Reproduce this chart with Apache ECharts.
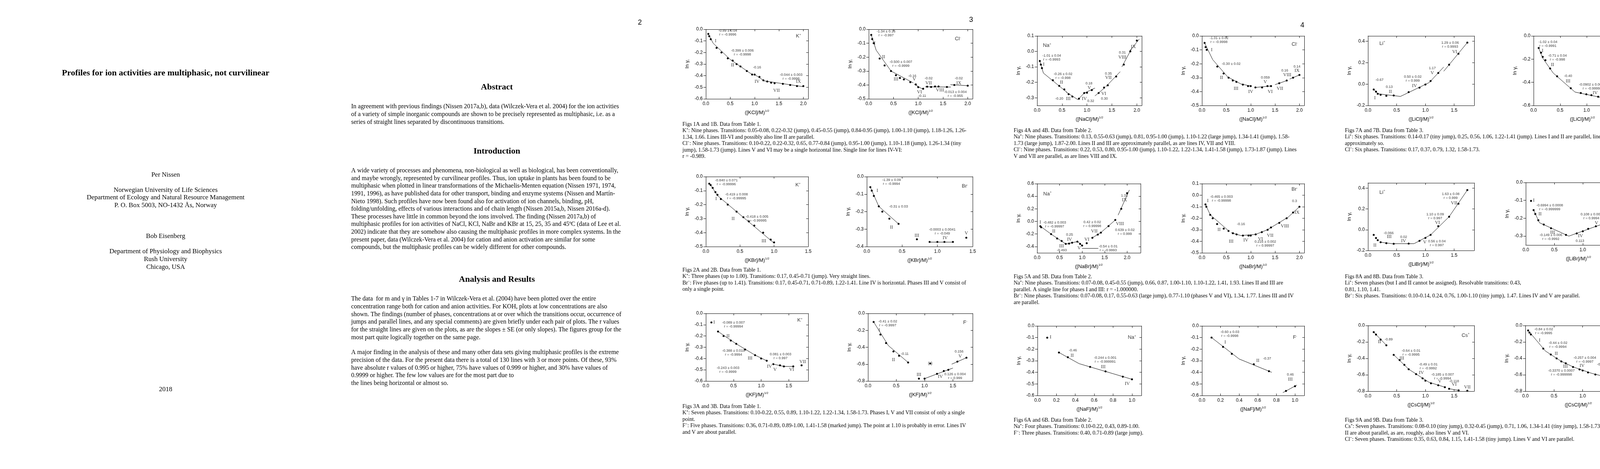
<!DOCTYPE html>
<html><head><meta charset="utf-8">
<script src="https://cdn.jsdelivr.net/npm/echarts@6/dist/echarts.min.js"></script>
<style>html,body{margin:0;padding:0;background:#fff}#c{width:4240px;height:1200px}</style>
</head><body><div id="c"></div>
<script>
// ================= DATA =================
// Fig 1A  K+ (KCl)
const f1aPts=[[0.05,-0.04],[0.07,-0.06],[0.10,-0.085],[0.22,-0.16],[0.32,-0.20],[0.45,-0.25],[0.55,-0.27],[0.63,-0.30],[0.71,-0.32],[0.84,-0.36],[0.95,-0.39],[1.00,-0.39],[1.10,-0.41],[1.18,-0.44],[1.26,-0.45],[1.34,-0.46],[1.41,-0.465],[1.58,-0.47],[1.73,-0.48],[1.87,-0.49],[2.00,-0.49]];
const f1aFits=[[0.05,-0.04,0.15,-0.12],[0.15,-0.12,0.5,-0.26],[0.5,-0.26,0.95,-0.39],[1.0,-0.39,1.2,-0.445],[1.2,-0.445,1.6,-0.47],[1.6,-0.47,2.0,-0.495]];
const f1aSlopes=[[0.45,-0.03,'-0.89 ± 0.04\nr = -0.9996'],[0.75,-0.2,'-0.399 ± 0.006\nr = -0.9998'],[1.05,-0.33,'-0.16'],[1.75,-0.41,'-0.044 ± 0.003\nr = -0.9996']];
const f1aPhases=[[0.2,-0.1,'I'],[0.55,-0.31,'II'],[1.05,-0.45,'IV'],[1.45,-0.53,'VII'],[1.9,-0.45,'IX']];
const f1aIon=[1.9,-0.06,'K','+'];
// Fig 1B  Cl- (KCl)
const f1bPts=[[0.05,-0.04],[0.07,-0.07],[0.10,-0.10],[0.22,-0.21],[0.32,-0.26],[0.45,-0.30],[0.55,-0.33],[0.63,-0.35],[0.71,-0.36],[0.84,-0.38],[0.95,-0.396],[1.00,-0.416],[1.10,-0.427],[1.18,-0.412],[1.26,-0.414],[1.34,-0.411],[1.41,-0.411],[1.58,-0.414],[1.73,-0.40],[2.00,-0.405]];
const f1bFits=[[0.05,-0.04,0.15,-0.15],[0.15,-0.15,0.45,-0.3],[0.45,-0.3,0.9,-0.385],[0.92,-0.395,1.1,-0.432],[1.14,-0.413,1.66,-0.415],[1.65,-0.398,2.0,-0.405]];
const f1bSlopes=[[0.35,-0.03,'-1.34 ± 0.16\nr = -0.997'],[0.65,-0.25,'-0.500 ± 0.007\nr = -0.9999'],[0.88,-0.337,'-0.16'],[1.21,-0.353,'-0.02'],[1.82,-0.353,'-0.02'],[1.08,-0.48,'-0.11'],[1.75,-0.464,'-0.013 ± 0.004\nr = -0.955']];
const f1bPhases=[[0.12,-0.1,'I'],[0.3,-0.2,'II'],[0.55,-0.36,'III'],[0.92,-0.36,'V'],[1.025,-0.451,'VI'],[1.21,-0.386,'VII'],[1.44,-0.438,'VIII'],[1.82,-0.386,'IX']];
const f1bIon=[1.8,-0.07,'Cl','-'];
// Fig 2A  K+ (KBr)
const f2aPts=[[0.05,-0.05],[0.07,-0.06],[0.10,-0.08],[0.14,-0.11],[0.17,-0.13],[0.22,-0.16],[0.32,-0.20],[0.45,-0.25],[0.55,-0.29],[0.63,-0.32],[0.71,-0.35],[0.84,-0.40],[0.95,-0.45],[1.00,-0.47]];
const f2aFits=[[0.05,-0.045,0.17,-0.135],[0.17,-0.135,0.45,-0.25],[0.45,-0.25,1.0,-0.475]];
const f2aSlopes=[[0.3,-0.04,'-0.840 ± 0.071\nr = -0.99996'],[0.45,-0.14,'-0.419 ± 0.008\nr = -0.99995'],[0.75,-0.3,'-0.418 ± 0.005\nr = -0.99995']];
const f2aPhases=[[0.15,-0.16,'I'],[0.4,-0.3,'II'],[0.85,-0.46,'III']];
const f2aIon=[1.35,-0.06,'K','+'];
// Fig 2B  Br- (KBr)
const f2bPts=[[0.05,-0.06],[0.07,-0.08],[0.10,-0.11],[0.17,-0.17],[0.22,-0.2],[0.32,-0.24],[0.45,-0.27],[0.71,-0.358],[0.89,-0.373],[1.00,-0.373],[1.10,-0.373],[1.22,-0.373],[1.41,-0.349]];
const f2bFits=[[0.05,-0.06,0.17,-0.17],[0.17,-0.17,0.45,-0.27],[0.89,-0.373,1.22,-0.373]];
const f2bSlopes=[[0.35,-0.03,'-1.39 ± 0.09\nr = -0.9994'],[0.45,-0.17,'-0.31 ± 0.03'],[1.07,-0.315,'-0.0003 ± 0.0041\nr = -0.049']];
const f2bPhases=[[0.15,-0.08,'I'],[0.35,-0.29,'II'],[0.71,-0.337,'III'],[1.11,-0.35,'IV'],[1.41,-0.323,'V']];
const f2bIon=[1.39,-0.055,'Br','-'];
// Fig 3A  K+ (KF)
const f3aPts=[[0.10,-0.08],[0.22,-0.16],[0.32,-0.2],[0.45,-0.24],[0.55,-0.27],[0.71,-0.32],[0.89,-0.37],[1.00,-0.40],[1.10,-0.42],[1.22,-0.45],[1.34,-0.46],[1.41,-0.47],[1.58,-0.47],[1.73,-0.46]];
const f3aFits=[[0.22,-0.16,0.55,-0.27],[0.55,-0.27,0.89,-0.37],[0.89,-0.37,1.1,-0.42],[1.22,-0.45,1.41,-0.47],[1.41,-0.47,1.58,-0.47]];
const f3aSlopes=[[0.5,-0.1,'-0.089 ± 0.007\nr = -0.99994'],[0.5,-0.35,'-0.388 ± 0.015\nr = -0.9994'],[0.4,-0.5,'-0.243 ± 0.003\nr = -0.9999'],[1.35,-0.38,'0.081 ± 0.003\nr = 0.997']];
const f3aPhases=[[0.15,-0.08,'I'],[0.4,-0.2,'II'],[0.8,-0.4,'III'],[1.15,-0.47,'IV'],[1.25,-0.5,'V'],[1.55,-0.5,'VI'],[1.75,-0.43,'VII']];
const f3aIon=[1.7,-0.06,'K','+'];
// Fig 3B  F- (KF)
const f3bPts=[[0.10,-0.10],[0.22,-0.25],[0.32,-0.35],[0.45,-0.45],[0.55,-0.5],[0.71,-0.58],[0.90,-0.771],[1.00,-0.771],[1.22,-0.714],[1.34,-0.681],[1.42,-0.667],[1.58,-0.57],[1.74,-0.524],[1.10,-0.592]];
const f3bFits=[[0.10,-0.10,0.36,-0.38],[0.36,-0.38,0.71,-0.58],[1.0,-0.771,1.5,-0.646],[1.48,-0.60,1.74,-0.524]];
const f3bSlopes=[[0.35,-0.12,'-0.41 ± 0.02\nr = -0.9997'],[0.65,-0.48,'-0.11'],[1.54,-0.741,'0.126 ± 0.004\nr = 0.999'],[1.61,-0.453,'0.156']];
const f3bPhases=[[0.2,-0.2,'I'],[0.45,-0.55,'II'],[0.9,-0.723,'III'],[1.28,-0.749,'IV'],[1.63,-0.507,'V']];
const f3bMarks=[[1.10,-0.592,'(•)']];
const f3bIon=[1.72,-0.11,'F','-'];
// Fig 4A  Na+ (NaCl)
const f4aPts=[[0.054,-0.062],[0.075,-0.085],[0.097,-0.108],[0.315,-0.186],[0.444,-0.223],[0.546,-0.246],[0.632,-0.277],[0.707,-0.292],[0.839,-0.306],[0.946,-0.269],[1.0,-0.267],[1.097,-0.25],[1.234,-0.269],[1.344,-0.234],[1.417,-0.219],[1.586,-0.162],[1.739,-0.085],[1.87,0.0],[2.0,0.07]];
const f4aFits=[[0.054,-0.062,0.126,-0.14],[0.126,-0.14,0.6,-0.265],[0.58,-0.262,0.817,-0.312],[0.817,-0.312,0.95,-0.268],[0.925,-0.273,1.16,-0.237],[1.16,-0.288,1.35,-0.237],[1.376,-0.229,1.667,-0.131],[1.7,-0.1,1.9,0.02],[1.85,0.0,2.05,0.08]];
const f4aSlopes=[[0.293,-0.04,'-1.01 ± 0.04\nr = -0.9993'],[0.52,-0.158,'-0.26 ± 0.02\nr = -0.998'],[0.444,-0.307,'-0.20'],[1.04,-0.208,'0.18'],[1.075,-0.322,'0.32'],[1.43,-0.144,'0.35'],[1.35,-0.305,'0.30'],[1.71,-0.008,'0.31']];
const f4aPhases=[[0.134,-0.085,'I'],[0.49,-0.2,'II'],[0.624,-0.307,'III'],[0.946,-0.307,'IV'],[1.046,-0.237,'V'],[1.336,-0.273,'VI'],[1.43,-0.171,'VII'],[1.71,-0.038,'VIII'],[1.93,0.03,'IX']];
const f4aIon=[0.2,0.038,'Na','+'];
// Fig 4B  Cl- (NaCl)
const f4bPts=[[0.054,-0.05],[0.075,-0.08],[0.097,-0.1],[0.315,-0.22],[0.444,-0.27],[0.546,-0.3],[0.632,-0.32],[0.707,-0.33],[0.839,-0.35],[0.946,-0.36],[1.0,-0.36],[1.097,-0.37],[1.234,-0.37],[1.344,-0.36],[1.417,-0.36],[1.586,-0.34],[1.739,-0.32],[1.87,-0.3],[2.0,-0.28]];
const f4bFits=[[0.054,-0.05,0.22,-0.17],[0.22,-0.17,0.53,-0.295],[0.53,-0.295,0.8,-0.345],[0.8,-0.345,1.0,-0.36],[1.1,-0.37,1.4,-0.36],[1.5,-0.35,1.75,-0.32],[1.8,-0.31,2.0,-0.28]];
const f4bSlopes=[[0.35,-0.03,'-1.01 ± 0.02\nr = -0.9998'],[0.6,-0.2,'-0.30 ± 0.02'],[1.3,-0.3,'0.059'],[1.7,-0.25,'0.16'],[1.95,-0.22,'0.14']];
const f4bPhases=[[0.2,-0.1,'I'],[0.4,-0.3,'II'],[0.7,-0.38,'III'],[1.0,-0.4,'IV'],[1.3,-0.33,'V'],[1.4,-0.4,'VI'],[1.6,-0.38,'VII'],[1.75,-0.28,'VIII'],[1.95,-0.25,'IX']];
const f4bIon=[1.9,-0.06,'Cl','-'];
// Fig 5A  Na+ (NaBr)
const f5aPts=[[0.072,-0.076],[0.09,-0.093],[0.311,-0.202],[0.446,-0.272],[0.545,-0.311],[0.635,-0.357],[0.71,-0.353],[0.778,-0.338],[0.895,-0.322],[0.955,-0.357],[1.0,-0.383],[1.102,-0.346],[1.228,-0.26],[1.347,-0.21],[1.416,-0.179],[1.587,-0.074],[1.737,0.023],[1.87,0.2],[2.0,0.45]];
const f5aFits=[[0.072,-0.076,0.311,-0.202],[0.311,-0.202,0.64,-0.36],[0.64,-0.36,0.9,-0.32],[0.9,-0.32,1.0,-0.385],[1.0,-0.429,1.36,-0.429],[1.228,-0.26,1.42,-0.175],[1.42,-0.175,1.75,0.03],[1.8,0.1,2.05,0.5]];
const f5aSlopes=[[0.39,-0.047,'-0.482 ± 0.003\nr = -0.99997'],[0.72,-0.21,'0.25'],[0.55,-0.46,'-0.493'],[1.225,-0.045,'0.42 ± 0.02\nr = 0.99998'],[1.58,-0.431,'-0.54 ± 0.01\nr = -0.9993'],[1.95,-0.165,'0.639 ± 0.02\nr = 0.999'],[1.94,0.412,'1.31']];
const f5aPhases=[[0.072,-0.016,'I'],[0.371,-0.155,'II'],[0.542,-0.392,'III'],[0.72,-0.289,'IV'],[0.934,-0.423,'V'],[1.105,-0.289,'VI'],[1.27,-0.155,'VII'],[1.84,-0.041,'VIII'],[1.94,0.34,'IX']];
const f5aIon=[0.23,0.437,'Na','+'];
// Fig 5B  Br- (NaBr)
const f5bPts=[[0.072,-0.08],[0.09,-0.1],[0.17,-0.17],[0.22,-0.2],[0.311,-0.25],[0.446,-0.29],[0.545,-0.31],[0.635,-0.33],[0.71,-0.34],[0.84,-0.35],[0.955,-0.35],[1.0,-0.35],[1.102,-0.34],[1.228,-0.32],[1.347,-0.3],[1.416,-0.28],[1.587,-0.24],[1.737,-0.2],[1.87,-0.15],[2.0,-0.1]];
const f5bFits=[[0.072,-0.08,0.17,-0.17],[0.17,-0.17,0.55,-0.31],[0.6,-0.325,0.8,-0.35],[0.8,-0.35,1.1,-0.34],[1.1,-0.34,1.34,-0.3],[1.34,-0.3,1.77,-0.19],[1.77,-0.19,2.0,-0.1]];
const f5bSlopes=[[0.4,-0.03,'-0.465 ± 0.003\nr = -0.99998'],[0.8,-0.25,'-0.16'],[1.3,-0.42,'0.216 ± 0.002\nr = 0.99997'],[1.9,-0.05,'0.3']];
const f5bPhases=[[0.12,-0.05,'I'],[0.35,-0.3,'II'],[0.6,-0.4,'III'],[0.9,-0.39,'IV'],[1.2,-0.38,'VI'],[1.4,-0.35,'VII'],[1.7,-0.27,'VIII'],[1.95,-0.15,'IX']];
const f5bIon=[1.9,0.05,'Br','-'];
// Fig 6A  Na+ (NaF)
const f6aPts=[[0.103,-0.101],[0.227,-0.229],[0.321,-0.27],[0.557,-0.353],[0.72,-0.392],[0.903,-0.437],[1.0,-0.46]];
const f6aFits=[[0.227,-0.229,0.44,-0.325],[0.44,-0.325,1.0,-0.46]];
const f6aSlopes=[[0.374,-0.212,'-0.46'],[0.717,-0.29,'-0.244 ± 0.001\nr = -0.999991']];
const f6aPhases=[[0.139,-0.097,'I'],[0.367,-0.257,'II'],[0.696,-0.352,'III'],[0.95,-0.5,'IV']];
const f6aIon=[1.0,-0.1,'Na','+'];
// Fig 6B  F- (NaF)
const f6bPts=[[0.103,-0.10],[0.227,-0.18],[0.321,-0.24],[0.557,-0.33],[0.72,-0.39],[0.903,-0.56],[1.0,-0.52]];
const f6bFits=[[0.103,-0.10,0.40,-0.285],[0.40,-0.285,0.75,-0.40],[0.87,-0.575,1.02,-0.51]];
const f6bSlopes=[[0.3,-0.07,'-0.60 ± 0.03\nr = -0.9998'],[0.7,-0.28,'-0.37'],[0.95,-0.42,'0.46']];
const f6bPhases=[[0.25,-0.14,'I'],[0.6,-0.3,'II'],[0.95,-0.46,'III']];
const f6bIon=[1.0,-0.1,'F','-'];
// Fig 7A  Li+ (LiCl)
const f7aPts=[[0.1,-0.05],[0.14,-0.07],[0.17,-0.09],[0.22,-0.1],[0.32,-0.11],[0.448,-0.106],[0.708,-0.075],[0.897,-0.033],[1.0,-0.004],[1.09,0.029],[1.224,0.104],[1.413,0.182],[1.575,0.284],[1.73,0.388]];
const f7aFits=[[0.1,-0.05,0.17,-0.09],[0.17,-0.09,0.566,-0.115],[0.566,-0.115,1.068,0.015],[1.068,0.015,1.319,0.16],[1.319,0.12,1.73,0.388]];
const f7aSlopes=[[0.2,0.04,'-0.67'],[0.37,-0.027,'0.13'],[0.78,0.05,'0.50 ± 0.02\nr = 0.999'],[1.12,0.147,'1.17'],[1.43,0.368,'1.29 ± 0.06\nr = 0.9993']];
const f7aPhases=[[0.12,-0.13,'I'],[0.39,-0.072,'II'],[0.81,-0.017,'IV'],[1.12,0.104,'V'],[1.51,0.302,'VI']];
const f7aIon=[0.25,0.38,'Li','+'];
// Fig 7B  Cl- (LiCl)
const f7bPts=[[0.096,-0.104],[0.14,-0.144],[0.172,-0.18],[0.223,-0.209],[0.312,-0.281],[0.443,-0.348],[0.70,-0.451],[0.889,-0.492],[0.994,-0.503],[1.089,-0.511],[1.217,-0.524],[1.408,-0.525],[1.573,-0.511],[1.723,-0.487]];
const f7bFits=[[0.096,-0.104,0.17,-0.19],[0.17,-0.19,0.37,-0.32],[0.37,-0.32,0.78,-0.484],[0.78,-0.484,1.30,-0.533],[1.30,-0.533,1.573,-0.511]];
const f7bSlopes=[[0.27,-0.07,'-1.02 ± 0.04\nr = -0.9991'],[0.45,-0.187,'-0.71 ± 0.04\nr = -0.998'],[0.65,-0.346,'-0.40'],[1.105,-0.436,'-0.0902 ± 0.0007\nr = -0.99994'],[1.487,-0.449,'0.08']];
const f7bPhases=[[0.17,-0.127,'I'],[0.357,-0.25,'II'],[0.65,-0.389,'III'],[1.16,-0.49,'IV'],[1.487,-0.49,'V'],[1.72,-0.449,'VI']];
const f7bIon=[1.70,-0.074,'Cl','-'];
// Fig 8A  Li+ (LiBr)
const f8aPts=[[0.1,-0.05],[0.14,-0.08],[0.17,-0.1],[0.22,-0.12],[0.32,-0.13],[0.448,-0.135],[0.708,-0.133],[0.897,-0.107],[1.0,-0.079],[1.09,-0.05],[1.224,0.034],[1.413,0.125],[1.575,0.25],[1.73,0.381]];
const f8aFits=[[0.22,-0.12,0.43,-0.135],[0.43,-0.135,0.80,-0.135],[0.80,-0.135,1.09,-0.05],[1.09,-0.05,1.413,0.125],[1.413,0.125,1.73,0.381]];
const f8aSlopes=[[0.36,-0.032,'-0.066'],[0.62,-0.069,'0.02'],[1.2,-0.129,'0.56 ± 0.04\nr = 0.997'],[1.17,0.129,'1.10 ± 0.09\nr = 0.997'],[1.44,0.323,'1.63 ± 0.08\nr = 0.999']];
const f8aPhases=[[0.12,-0.15,'II'],[0.37,-0.069,'III'],[0.62,-0.109,'IV'],[0.99,-0.119,'V'],[1.21,0.066,'VI'],[1.50,0.256,'VII']];
const f8aIon=[0.25,0.36,'Li','+'];
// Fig 8B  Br- (LiBr)
const f8bPts=[[0.092,-0.103],[0.137,-0.154],[0.167,-0.176],[0.22,-0.211],[0.315,-0.235],[0.443,-0.256],[0.705,-0.293],[0.893,-0.285],[1.0,-0.273],[1.095,-0.259],[1.229,-0.245],[1.414,-0.225],[1.58,-0.191],[1.735,-0.152]];
const f8bFits=[[0.137,-0.154,0.24,-0.225],[0.24,-0.225,0.755,-0.3],[0.755,-0.3,1.47,-0.218],[1.47,-0.218,1.735,-0.152]];
const f8bSlopes=[[0.42,-0.14,'-0.6994 ± 0.0008\nr = -0.999999'],[0.44,-0.305,'-0.149 ± 0.006\nr = -0.9992'],[0.95,-0.328,'0.113'],[1.15,-0.19,'0.108 ± 0.004\nr = 0.9994'],[1.58,-0.145,'0.25']];
const f8bPhases=[[0.14,-0.1,'I'],[0.25,-0.177,'II'],[0.47,-0.28,'III'],[0.96,-0.3,'IV'],[1.24,-0.228,'V'],[1.59,-0.165,'VI']];
const f8bIon=[1.75,-0.05,'Br','-'];
// Fig 9A  Cs+ (CsCl)
const f9aPts=[[0.1,-0.08],[0.14,-0.11],[0.22,-0.17],[0.32,-0.24],[0.448,-0.357],[0.551,-0.42],[0.634,-0.479],[0.708,-0.532],[0.838,-0.592],[0.95,-0.643],[1.0,-0.671],[1.097,-0.703],[1.224,-0.727],[1.339,-0.751],[1.413,-0.77],[1.578,-0.789],[1.73,-0.794]];
const f9aFits=[[0.1,-0.08,0.32,-0.24],[0.45,-0.357,0.71,-0.532],[0.71,-0.532,1.06,-0.69],[1.06,-0.69,1.34,-0.751],[1.413,-0.77,1.578,-0.789]];
const f9aSlopes=[[0.36,-0.168,'-0.89'],[0.75,-0.33,'-0.64 ± 0.01\nr = -0.9995'],[1.05,-0.5,'-0.49 ± 0.01\nr = -0.9992'],[1.3,-0.62,'-0.185 ± 0.007\nr = -0.9994'],[1.5,-0.68,'-0.118']];
const f9aPhases=[[0.2,-0.2,'II'],[0.59,-0.4,'III'],[0.93,-0.575,'IV'],[1.25,-0.68,'V'],[1.5,-0.72,'VI'],[1.73,-0.75,'VII']];
const f9aIon=[1.7,-0.12,'Cs','+'];
// Fig 9B  Cl- (CsCl)
const f9bPts=[[0.048,-0.06],[0.071,-0.086],[0.095,-0.108],[0.313,-0.281],[0.443,-0.352],[0.545,-0.4],[0.628,-0.437],[0.705,-0.46],[0.833,-0.505],[0.946,-0.535],[1.0,-0.548],[1.095,-0.571],[1.223,-0.597],[1.339,-0.616],[1.414,-0.627],[1.58,-0.651],[1.735,-0.676]];
const f9bFits=[[0.048,-0.06,0.35,-0.31],[0.35,-0.31,0.63,-0.437],[0.63,-0.437,0.84,-0.505],[0.84,-0.505,1.15,-0.58],[1.15,-0.58,1.41,-0.627],[1.41,-0.627,1.735,-0.676]];
const f9bSlopes=[[0.32,-0.07,'-0.84 ± 0.02\nr = -0.9995'],[0.57,-0.235,'-0.44 ± 0.02\nr = -0.9994'],[0.63,-0.575,'-0.3370 ± 0.0007\nr = -0.999998'],[1.04,-0.415,'-0.257 ± 0.004\nr = -0.9997'],[1.45,-0.5,'-0.166 ± 0.005\nr = -0.9996'],[1.64,-0.77,'-0.180']];
const f9bPhases=[[0.25,-0.18,'I'],[0.54,-0.34,'II'],[0.7,-0.5,'III'],[0.99,-0.49,'IV'],[1.35,-0.57,'V'],[1.66,-0.715,'VI']];
const f9bIon=[1.67,-0.12,'Cl','-'];

// axis ticks
const ticksX21=[0,0.5,1.0,1.5,2.0];
const ticksX15=[0,0.5,1.0,1.5];
const ticksX23=[0,0.5,1.0,1.5,2.0];
const ticksX11=[0,0.2,0.4,0.6,0.8,1.0];
const ticksY06=[0,-0.1,-0.2,-0.3,-0.4,-0.5,-0.6];
const ticksY05=[0,-0.1,-0.2,-0.3,-0.4,-0.5];
const ticksY04=[0,-0.1,-0.2,-0.3,-0.4];
const ticksY08=[0,-0.2,-0.4,-0.6,-0.8];
const ticks4A=[0.1,0.0,-0.1,-0.2,-0.3];
const ticks5A=[0.6,0.4,0.2,0.0,-0.2,-0.4];
const ticks5B=[0.1,0.0,-0.1,-0.2,-0.3,-0.4,-0.5];
const ticks7A=[0.4,0.2,0.0,-0.2];
const ticks7B=[0.0,-0.2,-0.4,-0.6];
const ticks8B=[0.0,-0.1,-0.2,-0.3];

// ================= TEXT =================
const titleText='Profiles for ion activities are multiphasic, not curvilinear';
const authorLines=[['Per Nissen',448],['Norwegian University of Life Sciences',487],['Department of Ecology and Natural Resource Management',506],['P. O. Box 5003, NO-1432 Ås, Norway',526],['Bob Eisenberg',605],['Department of Physiology and Biophysics',644],['Rush University',664],['Chicago, USA',684],['2018',997]];
const abstractText=['In agreement with previous findings (Nissen 2017a,b), data (Wilczek-Vera et al. 2004) for the ion activities','of a variety of simple inorganic compounds are shown to be precisely represented as multiphasic, i.e. as a','series of straight lines separated by discontinuous transitions.'];
const introText=['A wide variety of processes and phenomena, non-biological as well as biological, has been conventionally,','and maybe wrongly, represented by curvilinear profiles. Thus, ion uptake in plants has been found to be','multiphasic when plotted in linear transformations of the Michaelis-Menten equation (Nissen 1971, 1974,','1991, 1996), as have published data for other transport, binding and enzyme systems (Nissen and Martín-','Nieto 1998). Such profiles have now been found also for activation of ion channels, binding, pH,','folding/unfolding, effects of various interactions and of chain length (Nissen 2015a,b, Nissen 2016a-d).','These processes have little in common beyond the ions involved. The finding (Nissen 2017a,b) of','multiphasic profiles for ion activities of NaCl, KCl, NaBr and KBr at 15, 25, 35 and 45ºC (data of Lee et al.','2002) indicate that they are somehow also causing the multiphasic profiles in more complex systems. In the','present paper, data (Wilczek-Vera et al. 2004) for cation and anion activation are similar for some','compounds, but the multiphasic profiles can be widely different for other compounds.'];
const analysisText1=['The data  for m and γ in Tables 1-7 in Wilczek-Vera et al. (2004) have been plotted over the entire','concentration range both for cation and anion activities. For KOH, plots at low concentrations are also','shown. The findings (number of phases, concentrations at or over which the transitions occur, occurrence of','jumps and parallel lines, and any special comments) are given briefly under each pair of plots. The r values','for the straight lines are given on the plots, as are the slopes ± SE (or only slopes). The figures group for the','most part quite logically together on the same page.'];
const analysisText2=['A major finding in the analysis of these and many other data sets giving multiphasic profiles is the extreme','precision of the data. For the present data there is a total of 130 lines with 3 or more points. Of these, 93%','have absolute r values of 0.995 or higher, 75% have values of 0.999 or higher, and 30% have values of','0.9999 or higher. The few low values are for the most part due to','the lines being horizontal or almost so.'];
const cap1=['Figs 1A and 1B. Data from Table 1.','K⁺: Nine phases. Transitions: 0.05-0.08, 0.22-0.32 (jump), 0.45-0.55 (jump), 0.84-0.95 (jump), 1.00-1.10 (jump), 1.18-1.26, 1.26-','1.34, 1.66. Lines III-VI and possibly also line II are parallel.','Cl⁻: Nine phases. Transitions: 0.10-0.22, 0.22-0.32, 0.65, 0.77-0.84 (jump), 0.95-1.00 (jump), 1.10-1.18 (jump), 1.26-1.34 (tiny','jump), 1.58-1.73 (jump). Lines V and VI may be a single horizontal line. Single line for lines IV-VI:','r = -0.989.'];
const cap2=['Figs 2A and 2B. Data from Table 1.','K⁺: Three phases (up to 1.00). Transitions: 0.17, 0.45-0.71 (jump). Very straight lines.','Br⁻: Five phases (up to 1.41). Transitions: 0.17, 0.45-0.71, 0.71-0.89, 1.22-1.41. Line IV is horizontal. Phases III and V consist of','only a single point.'];
const cap3=['Figs 3A and 3B. Data from Table 1.','K⁺: Seven phases. Transitions: 0.10-0.22, 0.55, 0.89, 1.10-1.22, 1.22-1.34, 1.58-1.73. Phases I, V and VII consist of only a single','point.','F⁻: Five phases. Transitions: 0.36, 0.71-0.89, 0.89-1.00, 1.41-1.58 (marked jump). The point at 1.10 is probably in error. Lines IV','and V are about parallel.'];
const cap4=['Figs 4A and 4B. Data from Table 2.','Na⁺: Nine phases. Transitions: 0.13, 0.55-0.63 (jump), 0.81, 0.95-1.00 (jump), 1.10-1.22 (large jump), 1.34-1.41 (jump), 1.58-','1.73 (large jump), 1.87-2.00. Lines II and III are approximately parallel, as are lines IV, VII and VIII.','Cl⁻: Nine phases. Transitions: 0.22, 0.53, 0.80, 0.95-1.00 (jump), 1.10-1.22, 1.22-1.34, 1.41-1.58 (jump), 1.73-1.87 (jump). Lines','V and VII are parallel, as are lines VIII and IX.'];
const cap5=['Figs 5A and 5B. Data from Table 2.','Na⁺: Nine phases. Transitions: 0.07-0.08, 0.45-0.55 (jump), 0.66, 0.87, 1.00-1.10, 1.10-1.22, 1.41, 1.93. Lines II and III are','parallel. A single line for phases I and III: r = -1.000000.','Br⁻: Nine phases. Transitions: 0.07-0.08, 0.17, 0.55-0.63 (large jump), 0.77-1.10 (phases V and VI), 1.34, 1.77. Lines III and IV','are parallel.'];
const cap6=['Figs 6A and 6B. Data from Table 2.','Na⁺: Four phases. Transitions: 0.10-0.22, 0.43, 0.89-1.00.','F⁻: Three phases. Transitions: 0.40, 0.71-0.89 (large jump).'];
const cap7=['Figs 7A and 7B. Data from Table 3.','Li⁺: Six phases. Transitions: 0.14-0.17 (tiny jump), 0.25, 0.56, 1.06, 1.22-1.41 (jump). Lines I and II are parallel, lines V and VI','approximately so.','Cl⁻: Six phases. Transitions: 0.17, 0.37, 0.79, 1.32, 1.58-1.73.'];
const cap8=['Figs 8A and 8B. Data from Table 3.','Li⁺: Seven phases (but I and II cannot be assigned). Resolvable transitions: 0.43,','0.81, 1.10, 1.41.','Br⁻: Six phases. Transitions: 0.10-0.14, 0.24, 0.76, 1.00-1.10 (tiny jump), 1.47. Lines IV and V are parallel.'];
const cap9=['Figs 9A and 9B. Data from Table 3.','Cs⁺: Seven phases. Transitions: 0.08-0.10 (tiny jump), 0.32-0.45 (jump), 0.71, 1.06, 1.34-1.41 (tiny jump), 1.58-1.73. Lines I and','II are about parallel, as are, roughly, also lines V and VI.','Cl⁻: Seven phases. Transitions: 0.35, 0.63, 0.84, 1.15, 1.41-1.58 (tiny jump). Lines V and VI are parallel.'];

// ================= LAYOUT =================
const SERIF='"Liberation Serif","Times New Roman",serif';
const SANS='"Liberation Sans",Arial,sans-serif';
const charts=[
 {box:[1807,75,262,178],xr:[0,2.1],xt:ticksX21,yr:[-0.6,0],yt:ticksY06,salt:'KCl',d:[f1aPts,f1aFits,f1aSlopes,f1aPhases,f1aIon]},
 {box:[2224,75,266,178],xr:[0,2.1],xt:ticksX21,yr:[-0.5,0],yt:ticksY05,salt:'KCl',d:[f1bPts,f1bFits,f1bSlopes,f1bPhases,f1bIon]},
 {box:[1807,452,262,179],xr:[0,1.5],xt:ticksX15,yr:[-0.5,0],yt:ticksY05,salt:'KBr',d:[f2aPts,f2aFits,f2aSlopes,f2aPhases,f2aIon]},
 {box:[2219,452,271,179],xr:[0,1.5],xt:ticksX15,yr:[-0.4,0],yt:ticksY04,salt:'KBr',d:[f2bPts,f2bFits,f2bSlopes,f2bPhases,f2bIon]},
 {box:[1807,802,262,173],xr:[0,1.85],xt:ticksX15,yr:[-0.6,0],yt:ticksY06,salt:'KF',d:[f3aPts,f3aFits,f3aSlopes,f3aPhases,f3aIon]},
 {box:[2222,802,268,173],xr:[0,1.85],xt:ticksX15,yr:[-0.8,0],yt:ticksY08,salt:'KF',d:[f3bPts,f3bFits,f3bSlopes,f3bPhases,f3bIon],marks:f3bMarks},
 {box:[2655,92,268,178],xr:[0,2.1],xt:ticksX21,yr:[-0.35,0.1],yt:ticks4A,salt:'NaCl',d:[f4aPts,f4aFits,f4aSlopes,f4aPhases,f4aIon]},
 {box:[3077,92,262,178],xr:[0,2.1],xt:ticksX21,yr:[-0.5,0],yt:ticksY05,salt:'NaCl',d:[f4bPts,f4bFits,f4bSlopes,f4bPhases,f4bIon]},
 {box:[2655,470,265,177],xr:[0,2.3],xt:ticksX23,yr:[-0.5,0.6],yt:ticks5A,salt:'NaBr',d:[f5aPts,f5aFits,f5aSlopes,f5aPhases,f5aIon]},
 {box:[3077,470,262,177],xr:[0,2.1],xt:ticksX21,yr:[-0.5,0.1],yt:ticks5B,salt:'NaBr',d:[f5bPts,f5bFits,f5bSlopes,f5bPhases,f5bIon]},
 {box:[2656,834,266,178],xr:[0,1.1],xt:ticksX11,yr:[-0.6,0],yt:ticksY06,salt:'NaF',d:[f6aPts,f6aFits,f6aSlopes,f6aPhases,f6aIon]},
 {box:[3077,834,262,178],xr:[0,1.1],xt:ticksX11,yr:[-0.6,0],yt:ticksY06,salt:'NaF',d:[f6bPts,f6bFits,f6bSlopes,f6bPhases,f6bIon]},
 {box:[3502,92,272,178],xr:[0,1.85],xt:ticksX15,yr:[-0.2,0.45],yt:ticks7A,salt:'LiCl',d:[f7aPts,f7aFits,f7aSlopes,f7aPhases,f7aIon]},
 {box:[3926,92,250,178],xr:[0,1.84],xt:ticksX15,yr:[-0.6,0],yt:ticks7B,salt:'LiCl',d:[f7bPts,f7bFits,f7bSlopes,f7bPhases,f7bIon]},
 {box:[3502,468,272,173],xr:[0,1.85],xt:ticksX15,yr:[-0.2,0.45],yt:ticks7A,salt:'LiBr',d:[f8aPts,f8aFits,f8aSlopes,f8aPhases,f8aIon]},
 {box:[3906,467,270,160],xr:[0,1.85],xt:ticksX15,yr:[-0.35,0],yt:ticks8B,salt:'LiBr',d:[f8bPts,f8bFits,f8bSlopes,f8bPhases,f8bIon]},
 {box:[3502,833,272,168],xr:[0,1.85],xt:ticksX15,yr:[-0.8,0],yt:ticksY08,salt:'CsCl',d:[f9aPts,f9aFits,f9aSlopes,f9aPhases,f9aIon]},
 {box:[3905,833,271,168],xr:[0,1.85],xt:ticksX15,yr:[-0.8,0],yt:ticksY08,salt:'CsCl',d:[f9bPts,f9bFits,f9bSlopes,f9bPhases,f9bIon]}
];
const captions=[[cap1,1747,318],[cap2,1747,691],[cap3,1747,1040],[cap4,2595,334],[cap5,2595,708],[cap6,2595,1075],[cap7,3443,334],[cap8,3443,708],[cap9,3443,1075]];
const pageNums=[['2',1638,58],['3',2486,51],['4',3334,65],['5',4182,65]];

// ================= BUILD =================
const grid=[],xAxis=[],yAxis=[],series=[],graphic=[];
const fmt=v=>v.toFixed(1);
const axBase={type:'value',axisLine:{onZero:false,lineStyle:{color:'#000',width:1}},splitLine:{show:false}};
const CLEAR='rgba(0,0,0,0)';
charts.forEach((c,i)=>{
  const [L,T,W,H]=c.box;
  grid.push({left:L,top:T,width:W,height:H,containLabel:false});
  const xi=xAxis.length, yi=yAxis.length;
  xAxis.push(Object.assign({},axBase,{gridIndex:i,position:'bottom',min:c.xr[0],max:c.xr[1],
    axisTick:{inside:true,length:5,lineStyle:{color:'#000'},customValues:c.xt},
    axisLabel:{color:'#000',fontSize:12,fontFamily:SANS,margin:7,formatter:fmt,customValues:c.xt,showMinLabel:true,showMaxLabel:true},
    name:'{a|(['+c.salt+']/M)}{s|1/2}',nameLocation:'middle',nameGap:27,
    nameTextStyle:{rich:{a:{fontSize:13,fontFamily:SANS,color:'#000',lineHeight:16},s:{fontSize:8,fontFamily:SANS,color:'#000',verticalAlign:'top',lineHeight:16}}}}));
  xAxis.push(Object.assign({},axBase,{gridIndex:i,position:'top',min:c.xr[0],max:c.xr[1],
    axisTick:{inside:true,length:5,lineStyle:{color:'#000'},customValues:c.xt},axisLabel:{show:false}}));
  yAxis.push(Object.assign({},axBase,{gridIndex:i,position:'left',min:c.yr[0],max:c.yr[1],
    axisTick:{inside:false,length:6,lineStyle:{color:'#000'},customValues:c.yt},
    axisLabel:{color:'#000',fontSize:12,fontFamily:SANS,margin:8,formatter:fmt,customValues:c.yt,showMinLabel:true,showMaxLabel:true},
    name:'{a|ln γ}{s|i}',nameLocation:'middle',nameGap:40,nameRotate:90,
    nameTextStyle:{rich:{a:{fontSize:13,fontFamily:SANS,color:'#000',lineHeight:16},s:{fontSize:8,fontFamily:SANS,color:'#000',verticalAlign:'bottom',lineHeight:16}}}}));
  yAxis.push(Object.assign({},axBase,{gridIndex:i,position:'right',min:c.yr[0],max:c.yr[1],
    axisTick:{inside:true,length:5,lineStyle:{color:'#000'},customValues:c.yt},axisLabel:{show:false}}));
  const [pts,fits,slopes,phases,ion]=c.d;
  series.push({type:'lines',coordinateSystem:'cartesian2d',xAxisIndex:xi,yAxisIndex:yi,silent:true,z:3,
    data:fits.map(f=>({coords:[[f[0],f[1]],[f[2],f[3]]]})),lineStyle:{color:'#000',width:1,opacity:1}});
  series.push({type:'scatter',xAxisIndex:xi,yAxisIndex:yi,silent:true,z:4,data:pts,symbolSize:5,itemStyle:{color:'#000',opacity:1}});
  const txt=(arr,font,size,lh)=>({type:'scatter',xAxisIndex:xi,yAxisIndex:yi,silent:true,z:5,symbolSize:1,itemStyle:{color:CLEAR},
    data:arr.map(a=>({value:[a[0],a[1]],name:a[2]})),
    label:{show:true,position:'inside',formatter:'{b}',color:'#000',fontFamily:font,fontSize:size,lineHeight:lh,align:'center',verticalAlign:'middle'}});
  series.push(txt(slopes,SANS,9,10));
  series.push(txt(phases,SERIF,12,13));
  if(c.marks) series.push(txt(c.marks,SANS,11,12));
  series.push({type:'scatter',xAxisIndex:xi,yAxisIndex:yi,silent:true,z:5,symbolSize:1,itemStyle:{color:CLEAR},
    data:[{value:[ion[0],ion[1]],name:ion[2],sup:ion[3]}],
    label:{show:true,position:'inside',formatter:p=>'{a|'+p.data.name+'}{s|'+p.data.sup+'}',
      rich:{a:{fontSize:13,fontFamily:SANS,color:'#000',lineHeight:16},s:{fontSize:8,fontFamily:SANS,color:'#000',verticalAlign:'top',lineHeight:16}}}});
});
const addText=(lines,x,yc,lh,font,align)=>{
  graphic.push({type:'text',x:x,y:yc-lh/2,silent:true,style:{text:lines.join('\n'),font:font,fill:'#000',lineHeight:lh,align:align||'left',verticalAlign:'top',textAlign:align||'left',textVerticalAlign:'top'}});
};
addText([titleText],424,187,26,'bold 22px '+SERIF,'center');
authorLines.forEach(a=>addText([a[0]],424,a[1],20,'17px '+SERIF,'center'));
addText(['Abstract'],1272,223,26,'bold 22px '+SERIF,'center');
addText(abstractText,899,273,19.7,'16px '+SERIF);
addText(['Introduction'],1272,387,26,'bold 22px '+SERIF,'center');
addText(introText,899,437,19.6,'16px '+SERIF);
addText(['Analysis and Results'],1272,715,26,'bold 22px '+SERIF,'center');
addText(analysisText1,899,765,19.7,'16px '+SERIF);
addText(analysisText2,899,902,19.7,'16px '+SERIF);
captions.forEach(c=>addText(c[0],c[1],c[2],16.5,'14px '+SERIF));
pageNums.forEach(p=>addText([p[0]],p[1],p[2],20,'18px '+SANS,'center'));

const chart=echarts.init(document.getElementById('c'),null,{renderer:'canvas'});
chart.setOption({backgroundColor:'#fff',animation:false,grid,xAxis,yAxis,series,graphic});
</script></body></html>
